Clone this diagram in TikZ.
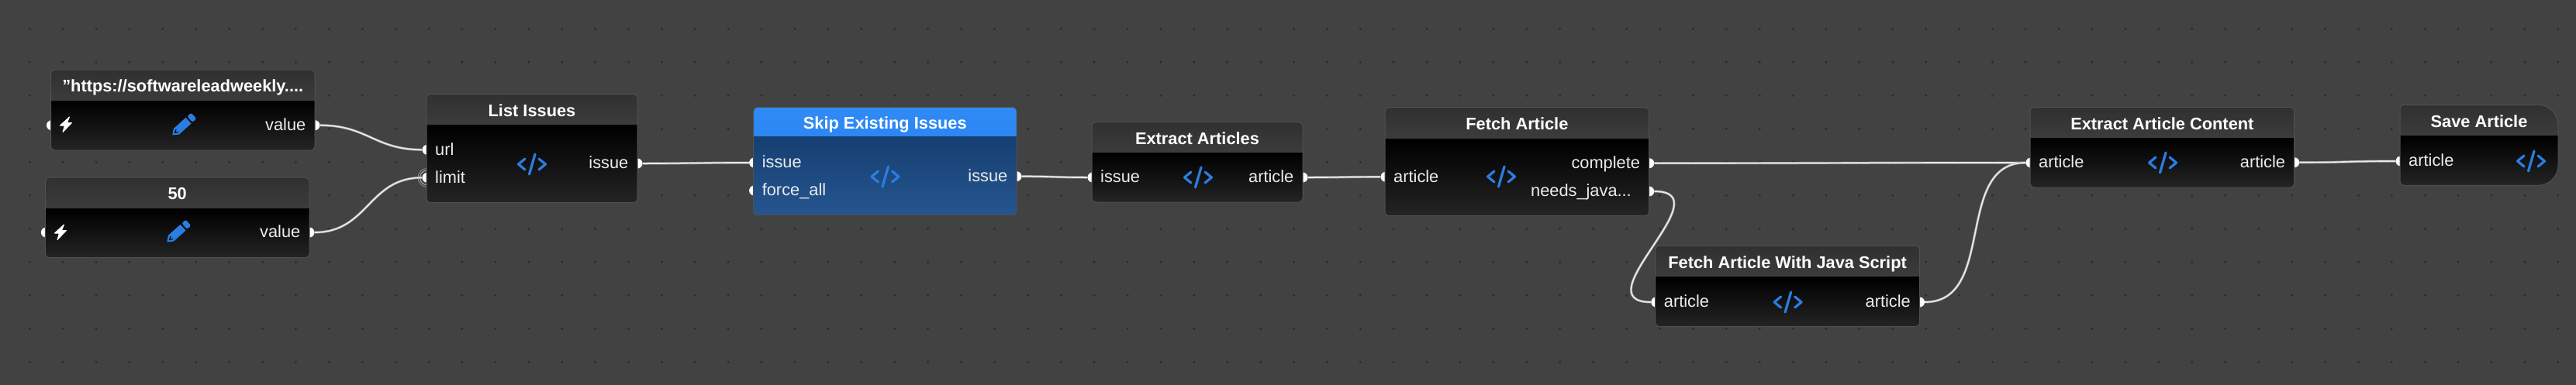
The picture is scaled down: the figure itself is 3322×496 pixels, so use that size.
\documentclass[tikz,border=0pt]{standalone}
\usepackage{fontspec}
\setmainfont{Liberation Sans}
\usetikzlibrary{calc}
\definecolor{canvas}{HTML}{424242}
\definecolor{griddot}{HTML}{2C2C2C}
\definecolor{edgeline}{HTML}{505050}
\definecolor{headA}{HTML}{303030}
\definecolor{headB}{HTML}{3C3C3C}
\definecolor{bodyA}{HTML}{000000}
\definecolor{bodyB}{HTML}{242424}
\definecolor{sheadA}{HTML}{2F8BF8}
\definecolor{sheadB}{HTML}{2D86F2}
\definecolor{sbodyA}{HTML}{153F72}
\definecolor{sbodyB}{HTML}{26558F}
\definecolor{iconblue}{HTML}{2A7DE1}
\definecolor{wire}{HTML}{EAEAEA}
\definecolor{wireedge}{HTML}{9A9A9A}
\definecolor{labelc}{HTML}{EDEDED}
\tikzset{
  x=1pt,y=-1pt,
  portdot/.style={circle,fill=white,inner sep=0pt,minimum size=13pt},
  wireline/.style={draw=wire,line width=1.7pt,preaction={draw=wireedge,line width=3pt}},
  titletext/.style={text=white,font=\fontsize{21.8}{24}\selectfont\bfseries,inner sep=0pt,anchor=base},
  portlabel/.style={text=labelc,font=\fontsize{21.8}{24}\selectfont,inner sep=0pt},
  codeicon/.pic={
    \draw[iconblue,line width=3.2pt,line cap=round,line join=round] (-9,-7)--(-17.5,0)--(-9,7);
    \draw[iconblue,line width=3.2pt,line cap=round,line join=round] (9,-7)--(17.5,0)--(9,7);
    \draw[iconblue,line width=3.2pt,line cap=round] (4,-13)--(-3.5,13);
  },
  penicon/.pic={
    \begin{scope}[rotate=42]
      \fill[iconblue] (-18.5,0)--(-11.5,-5.2)--(9.5,-5.2)--(9.5,5.2)--(-11.5,5.2)--cycle;
      \fill[iconblue,rounded corners=2.5pt] (11.8,-5.2)--(18.8,-5.2)--(18.8,5.2)--(11.8,5.2)--cycle;
      \draw[black,line width=1pt] (-10,-2.2)--(-14,0)--(-10,2.2);
    \end{scope}
  },
  bolticon/.pic={
    \fill[white,draw=white,line width=1pt,line join=round] (4.5,-10)--(-7.5,1)--(-1.5,1)--(-4,9.5)--(7.5,-2.5)--(1.5,-2.5)--cycle;
  },
}
% #1 name, #2 x1, #3 y1, #4 header bottom, #5 x2, #6 y2, #7 head colours, #8 body colours, #9 title
\newcommand{\flowbox}[9]{%
  \begin{scope}
    \clip[rounded corners=5pt] (#2,#3) rectangle (#5,#6);
    \shade[top color=#7A,bottom color=#7B] (#2,#3) rectangle (#5,#4);
    \shade[top color=#8A,bottom color=#8B] (#2,#4) rectangle (#5,#6);
  \end{scope}
  \draw[edgeline,line width=1pt,rounded corners=5pt] (#2,#3) rectangle (#5,#6);
  \node[titletext] (#1) at ({(#2+#5)/2},{(#3+#4)/2+8.8}) {#9};
}
\newcommand{\savepath}{(3095,187) [rounded corners=5pt] -- (3095,135.3) -- (3200,135.3) [rounded corners=26pt] -- (3299,135.3) -- (3299,239.3) -- (3200,239.3) [rounded corners=5pt] -- (3095,239.3) -- cycle}
\begin{document}
\begin{tikzpicture}
\useasboundingbox (0,0) rectangle (3322,496);
\fill[canvas] (-6,-6) rectangle (3328,502);
% grid dots
\foreach \i in {0,...,76} {
  \foreach \j in {0,...,10} {
    \fill[griddot] ({38.3+42.9*\i},{37.3+43*\j}) circle (1.7);
  }
}
% ports first, so that the boxes cover their inner half
\node[portdot] (ain)  at (66.5,161.7) {};
\node[portdot] (aval) at (406,161.7) {};
\node[portdot] (bin)  at (59.4,300) {};
\node[portdot] (bval) at (399,300) {};
\node[portdot] (url)  at (551,193.3) {};
\node[portdot] (limit) at (551,229.3) {};
\node[portdot] (liout) at (822,211) {};
\node[portdot] (skipin) at (972.6,210) {};
\node[portdot] (force) at (972.6,246) {};
\node[portdot] (skipout) at (1311,227.7) {};
\node[portdot] (eain) at (1409,229) {};
\node[portdot] (eaout) at (1680,229) {};
\node[portdot] (fain) at (1787,228.3) {};
\node[portdot] (facomp) at (2126.7,210.7) {};
\node[portdot] (faneed) at (2126.7,247) {};
\node[portdot] (jsin) at (2135.7,390) {};
\node[portdot] (jsout) at (2475.5,390) {};
\node[portdot] (ecin) at (2619,210) {};
\node[portdot] (ecout) at (2958.7,209.7) {};
\node[portdot] (savein) at (3096,208) {};
% halo round the limit port
\draw[white!70!canvas,line width=.8pt] (limit) circle (9.5);
\draw[white!45!canvas,line width=.7pt] (limit) circle (12);
% connectors
\draw[wireline] (aval) .. controls +(68,0) and +(-68,0) .. (url);
\draw[wireline] (bval) .. controls +(76,0) and +(-76,0) .. (limit);
\draw[wireline] (liout) .. controls +(70,0) and +(-70,0) .. (skipin);
\draw[wireline] (skipout) .. controls +(50,0) and +(-50,0) .. (eain);
\draw[wireline] (eaout) .. controls +(50,0) and +(-50,0) .. (fain);
\draw[wireline] (facomp) .. controls +(240,0) and +(-240,0) .. (ecin);
\draw[wireline] (faneed) .. controls +(97,0) and +(-97,0) .. (jsin);
\draw[wireline] (jsout) .. controls +(100,0) and +(-100,0) .. (ecin);
\draw[wireline] (ecout) .. controls +(70,0) and +(-70,0) .. (savein);
% boxes
\flowbox{nodeA}{65.5}{90}{130}{406}{194}{head}{body}{"https://softwareleadweekly....}
\flowbox{nodeB}{58.4}{229}{269}{399}{332.7}{head}{body}{50}
\flowbox{nodeList}{550}{121.7}{161.7}{822}{261.7}{head}{body}{List Issues}
\flowbox{nodeSkip}{971.6}{138.3}{176.7}{1311}{277.7}{shead}{sbody}{Skip Existing Issues}
\flowbox{nodeEA}{1408}{157.7}{197}{1680}{261}{head}{body}{Extract Articles}
\flowbox{nodeFA}{1786}{138.7}{179}{2126.7}{278.7}{head}{body}{Fetch Article}
\flowbox{nodeJS}{2134.7}{317.3}{357.7}{2475.5}{421.7}{head}{body}{Fetch Article With Java Script}
\flowbox{nodeEC}{2618}{138.3}{178.3}{2958.7}{242}{head}{body}{Extract Article Content}
% the save node has large right corners
\begin{scope}
  \clip \savepath;
  \shade[top color=headA,bottom color=headB] (3095,135.3) rectangle (3299,175.7);
  \shade[top color=bodyA,bottom color=bodyB] (3095,175.7) rectangle (3299,239.3);
\end{scope}
\draw[edgeline,line width=1pt] \savepath;
\node[titletext] (nodeSave) at (3197,164.5) {Save Article};
% port labels
\foreach \p/\t/\n in {aval/value/la,bval/value/lb,liout/issue/lc,skipout/issue/ld,eaout/article/le,facomp/complete/lf,jsout/article/lg,ecout/article/lh}
  \node[portlabel,anchor=base east] (\n) at ($(\p)+(-11.5,6.8)$) {\t};
\node[portlabel,anchor=base east] (li) at ($(faneed)+(-22.7,6.8)$) {needs\_java...};
\foreach \p/\t/\n in {url/url/ma,limit/limit/mb,skipin/issue/mc,force/force\_all/md,eain/issue/me,fain/article/mf,jsin/article/mg,ecin/article/mh,savein/article/mi}
  \node[portlabel,anchor=base west] (\n) at ($(\p)+(10,6.8)$) {\t};
% icons
\pic at (85,161) {bolticon};
\pic at (78,300) {bolticon};
\pic at (236,162) {penicon};
\pic at (229,300) {penicon};
\pic at (686,212) {codeicon};
\pic at (1141.5,228) {codeicon};
\pic at (1545,229) {codeicon};
\pic at (1936,228) {codeicon};
\pic at (2305.6,390) {codeicon};
\pic at (2789,210) {codeicon};
\pic at (3264,208) {codeicon};
\end{tikzpicture}
\end{document}
